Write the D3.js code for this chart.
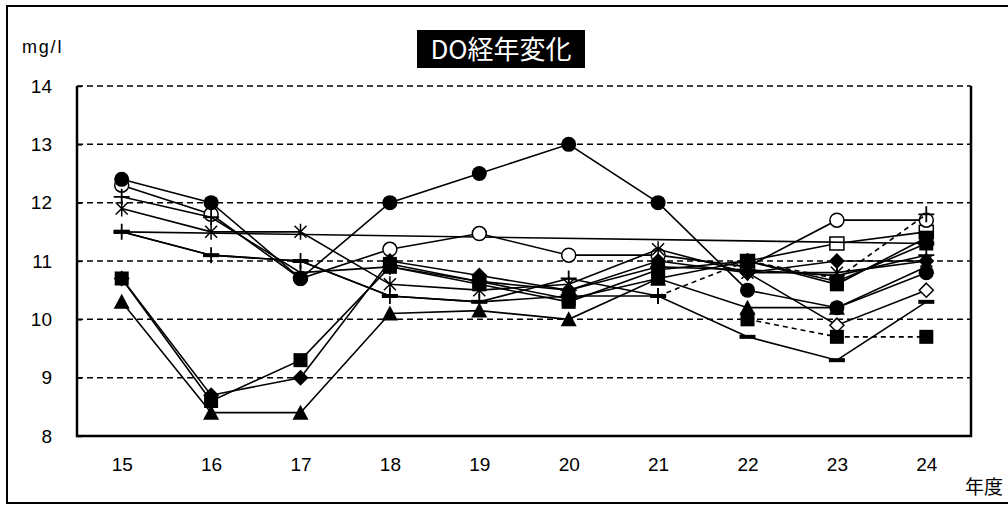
<!DOCTYPE html>
<html><head><meta charset="utf-8">
<script src="https://cdn.jsdelivr.net/npm/d3@7"></script>
<style>body{margin:0;background:#fff}svg{display:block}text{font-family:"Liberation Sans",Arial,sans-serif}</style>
</head><body>
<svg id="c" width="1008" height="505"></svg>
<script>
const years = ["15","16","17","18","19","20","21","22","23","24"];
const yTicks = [8,9,10,11,12,13,14];
const titleText = "DO経年変化";
const unitText = "mg/l";
const xTitle = "年度";

const sCircleFilled = [12.4,12.0,10.7,12.0,12.5,13.0,12.0,10.5,10.2,10.8];
const sCircleOpen   = [12.3,11.8,10.7,11.2,11.47,11.1,11.1,10.9,11.7,11.7];
const sAsterisk     = [11.9,11.5,11.5,10.6,10.5,10.6,11.2,10.8,10.8,11.0];
const sPlusUpper    = [12.1,11.75,10.8,10.9,10.65,10.5,10.9,10.85,10.75,11.1];
const sPlus         = [11.5,11.1,11.0,10.4,10.3,10.7,10.4,null,null,null];
const sPlusLate     = [null,null,null,null,null,null,10.4,11.0,10.7,11.8];
const sDash         = [11.5,11.1,11.0,10.4,10.3,10.4,10.4,9.7,9.3,10.3];
const sLongLine     = [11.5,null,null,null,null,null,null,null,null,11.3];
const sSquare       = [10.7,8.6,9.3,10.9,10.6,10.3,10.85,11.0,10.6,11.4];
const sDiamond      = [10.7,8.7,9.0,11.0,10.75,10.5,11.0,10.8,11.0,11.0];
const sTriangle     = [10.3,8.4,8.4,10.1,10.15,10.0,10.7,10.2,10.2,10.9];
const sSquare2      = [null,null,null,10.95,10.65,10.35,10.7,11.0,10.65,11.3];
const sSquareLate   = [null,null,null,null,null,null,null,10.0,9.7,9.7];
const sSquareOpen   = [null,null,null,null,null,null,null,11.0,11.3,11.5];
const sDiamondOpen  = [null,null,null,null,null,null,null,10.8,9.9,10.5];

const series = [
  {v:sSquareOpen, m:"squareOpen", dash:false},
  {v:sDiamondOpen, m:"diamondOpen", dash:false},
  {v:sLongLine, m:"dash", dash:false},
  {v:sCircleOpen, m:"circleOpen", dash:false},
  {v:sPlusUpper, m:"plus", dash:false},
  {v:sAsterisk, m:"asterisk", dash:false},
  {v:sDash, m:"dash", dash:false},
  {v:sPlus, m:"plus", dash:false},
  {v:sSquare2, m:"square", dash:false},
  {v:sDiamond, m:"diamond", dash:false},
  {v:sSquare, m:"square", dash:false},
  {v:sTriangle, m:"triangle", dash:false},
  {v:sSquareLate, m:"square", dash:true},
  {v:sPlusLate, m:"plus", dash:true},
  {v:sCircleFilled, m:"circle", dash:false}
];

const svg = d3.select("#c");
const L=77, R=971, T=86, B=436;
const x = d3.scalePoint().domain(years).range([L,R]).padding(0.5);
const y = d3.scaleLinear().domain([8,14]).range([B,T]);

svg.append("rect").attr("x",7).attr("y",6).attr("width",1010).attr("height",497)
  .attr("fill","#fff").attr("stroke","#000").attr("stroke-width",2);

const tg = svg.append("g");
tg.append("rect").attr("x",417).attr("y",30).attr("width",168).attr("height",38).attr("fill","#000");
tg.append("text").attr("x",501).attr("y",58.5).attr("text-anchor","middle").attr("fill","#fff")
  .style("font-family","'Noto Sans CJK JP','Liberation Sans',sans-serif").style("font-size","26px").text(titleText);

svg.append("text").attr("x",22).attr("y",53).style("font-size","18px").style("letter-spacing","1.8px").text(unitText);
svg.append("text").attr("x",965).attr("y",494).style("font-family","'Noto Sans CJK JP',sans-serif").style("font-size","19px").text(xTitle);

svg.append("g").selectAll("line").data(yTicks.filter(t=>t>8)).join("line")
  .attr("x1",L).attr("x2",R).attr("y1",d=>y(d)).attr("y2",d=>y(d))
  .attr("stroke","#000").attr("stroke-width",1.5).attr("stroke-dasharray","6,4");

const ya = svg.append("g").attr("transform",`translate(${L},0)`)
  .call(d3.axisLeft(y).tickValues(yTicks).tickSize(-5).tickPadding(25).tickFormat(d3.format("d")));
ya.select(".domain").remove();
ya.selectAll(".tick line").attr("stroke","#000").attr("stroke-width",1.5);
ya.selectAll("text").style("font-size","19px").style("font-family","'Liberation Sans',Arial,sans-serif").attr("fill","#000");

const xa = svg.append("g").attr("transform",`translate(0,${B})`)
  .call(d3.axisBottom(x).tickSize(0).tickPadding(22));
xa.select(".domain").remove();
xa.selectAll("text").style("font-size","19px").style("font-family","'Liberation Sans',Arial,sans-serif").attr("fill","#000");

svg.append("path").attr("d",`M${L},${T}V${B}H${R}V${T}`).attr("fill","none").attr("stroke","#000").attr("stroke-width",2.5);

function marker(g, type){
  const k="#000";
  switch(type){
    case "circle": g.append("circle").attr("r",7.5).attr("fill",k); break;
    case "circleOpen": g.append("circle").attr("r",7).attr("fill","#fff").attr("stroke",k).attr("stroke-width",1.5); break;
    case "square": g.append("rect").attr("x",-7).attr("y",-7).attr("width",14).attr("height",14).attr("fill",k); break;
    case "squareOpen": g.append("rect").attr("x",-7).attr("y",-6.5).attr("width",14).attr("height",13).attr("fill","#fff").attr("stroke",k).attr("stroke-width",1.5); break;
    case "diamond": g.append("path").attr("d","M0,-8L8,0L0,8L-8,0Z").attr("fill",k); break;
    case "diamondOpen": g.append("path").attr("d","M0,-7L7,0L0,7L-7,0Z").attr("fill","#fff").attr("stroke",k).attr("stroke-width",1.5); break;
    case "triangle": g.append("path").attr("d","M0,-8L8,7L-8,7Z").attr("fill",k); break;
    case "plus": g.append("path").attr("d","M-8,0H8M0,-8V8").attr("stroke",k).attr("stroke-width",1.8); break;
    case "asterisk": g.append("path").attr("d","M-6,-6L6,6M-6,6L6,-6M0,-8V8").attr("stroke",k).attr("stroke-width",1.5); break;
    case "dash": g.append("rect").attr("x",-8).attr("y",-2).attr("width",16).attr("height",4).attr("fill",k); break;
  }
}

const line = d3.line().x(d=>x(d.yr)).y(d=>y(d.val));
series.forEach(s=>{
  const pts = years.map((yr,i)=>({yr, val:s.v[i]})).filter(d=>d.val!=null);
  const g = svg.append("g");
  g.append("path").attr("d",line(pts)).attr("fill","none").attr("stroke","#000")
    .attr("stroke-width",1.6).attr("stroke-dasharray",s.dash?"5,4":null);
  pts.forEach(p=>{
    const mg = g.append("g").attr("transform",`translate(${x(p.yr)},${y(p.val)})`);
    marker(mg, s.m);
  });
});
</script>
</body></html>
